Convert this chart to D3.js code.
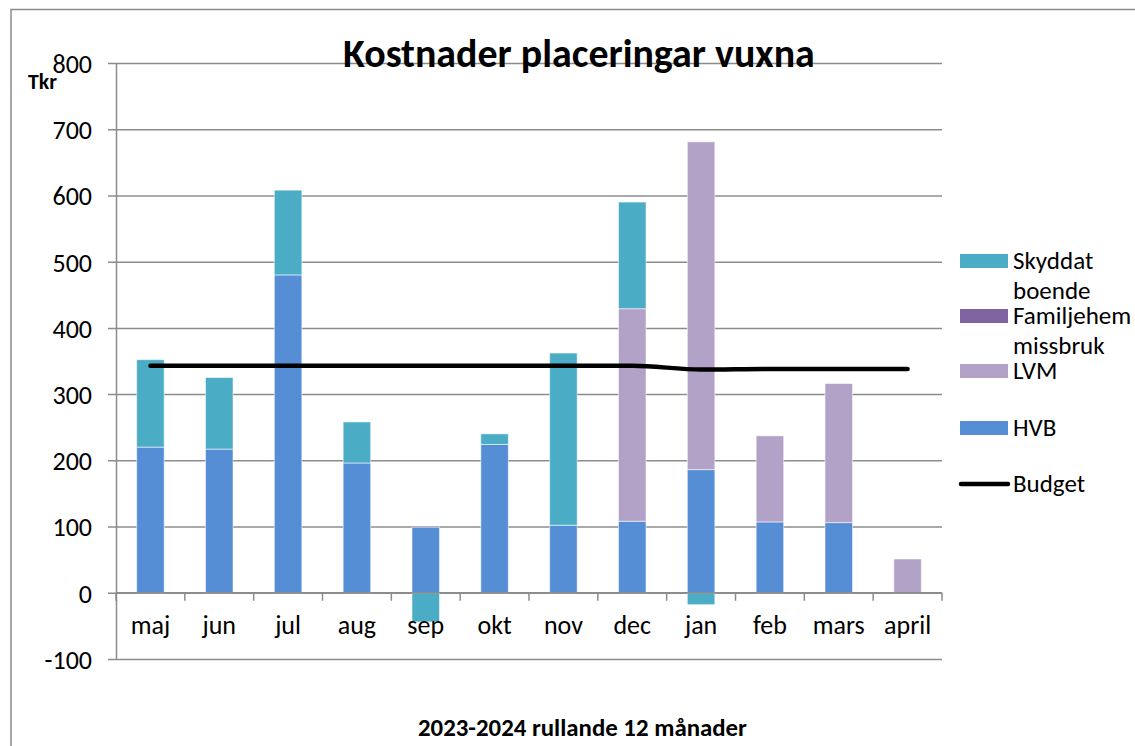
<!DOCTYPE html>
<html>
<head>
<meta charset="utf-8">
<script src="https://cdn.jsdelivr.net/npm/d3@7"></script>
<style>
  html, body { margin: 0; padding: 0; background: #fff; }
  svg { display: block; }
  text { font-family: Carlito, Calibri, Lato, "Open Sans", sans-serif; fill: #000; }
</style>
</head>
<body>
<svg id="chart" width="1135" height="746"></svg>
<script>
// ---- data ----
const categories = ["maj", "jun", "jul", "aug", "sep", "okt", "nov", "dec", "jan", "feb", "mars", "april"];
const hvb        = [220, 217, 480, 196, 99, 224, 102, 108, 186, 107, 106, 0];
const lvm        = [0, 0, 0, 0, 0, 0, 0, 321, 495, 130, 210, 51];
const familjehem = [0, 0, 0, 0, 0, 0, 0, 0, 0, 0, 0, 0];
const skyddat    = [132, 108, 128, 62, -44, 16, 260, 161, -18, 0, 0, 0];
const budget     = [343, 343, 343, 343, 343, 343, 343, 343, 337, 338, 338, 338];
const yTicks     = [-100, 0, 100, 200, 300, 400, 500, 600, 700, 800];
const seriesKeys = ["HVB", "LVM", "Familjehem", "Skyddat"];
const legendItems = [
  { key: "Skyddat", lines: ["Skyddat", "boende"] },
  { key: "Familjehem", lines: ["Familjehem", "missbruk"] },
  { key: "LVM", lines: ["LVM"] },
  { key: "HVB", lines: ["HVB"] },
  { key: "Budget", lines: ["Budget"] }
];
const colors = { HVB: "#558ED5", LVM: "#B3A2C7", Familjehem: "#8064A2", Skyddat: "#4BACC6" };

const rows = categories.map((c, i) => ({
  cat: c, HVB: hvb[i], LVM: lvm[i], Familjehem: familjehem[i], Skyddat: skyddat[i], budget: budget[i]
}));

// ---- layout ----
const svg = d3.select("#chart");
const plotL = 116, plotR = 942, plotT = 63, plotB = 659;
const gridColor = "#8c8c8c";

function fitWidth(sel, target) {
  const fs = parseFloat(sel.attr("font-size"));
  const w = sel.node().getComputedTextLength();
  if (w > 0) sel.attr("font-size", fs * target / w);
  return sel;
}

svg.append("rect").attr("x", 0).attr("y", 0).attr("width", 1135).attr("height", 746).attr("fill", "#fff");
svg.append("rect").attr("x", 11).attr("y", 9.5).attr("width", 1140).attr("height", 760)
  .attr("fill", "none").attr("stroke", "#8a8a8a").attr("stroke-width", 1.5);

const y = d3.scaleLinear().domain([-100, 800]).range([plotB, plotT]);
const x = d3.scaleBand().domain(categories).range([plotL, plotR]).padding(0);
const bw = x.bandwidth();

// gridlines
const grid = svg.append("g").attr("transform", `translate(${plotR},0)`)
  .call(d3.axisLeft(y).tickValues(yTicks).tickSize(plotR - plotL + 8).tickFormat(""));
grid.select(".domain").remove();
grid.selectAll("line").attr("stroke", gridColor).attr("stroke-width", 1.5);

// y axis
const yAxis = svg.append("g").attr("transform", `translate(${plotL},0)`)
  .call(d3.axisLeft(y).tickValues(yTicks).tickSize(0).tickPadding(24).tickFormat(d => String(d)));
yAxis.select(".domain").attr("stroke", gridColor).attr("stroke-width", 1.5);
yAxis.selectAll("text").attr("font-size", 26).attr("fill", "#000").attr("dy", "0.36em")
  .style("font-family", "Carlito, Calibri, Lato, sans-serif");

// bars
const stack = d3.stack().keys(seriesKeys).offset(d3.stackOffsetDiverging);
const stacked = stack(rows);
svg.append("g").selectAll("g").data(stacked).join("g")
  .attr("fill", d => colors[d.key])
  .selectAll("rect").data(d => d.filter(s => s[1] !== s[0])).join("rect")
  .attr("x", d => x(d.data.cat) + bw * 0.3)
  .attr("width", bw * 0.4)
  .attr("y", d => y(Math.max(d[0], d[1])))
  .attr("height", d => Math.abs(y(d[0]) - y(d[1])))
  .attr("stroke", "rgba(255,255,255,0.55)").attr("stroke-width", 1);

// x axis at zero
const xAxisG = svg.append("g").attr("transform", `translate(0,${y(0)})`);
xAxisG.append("line").attr("x1", plotL).attr("x2", plotR).attr("stroke", gridColor).attr("stroke-width", 1.5);
const boundaries = d3.range(categories.length + 1).map(i => plotL + i * bw);
xAxisG.selectAll(".tk").data(boundaries).join("line").attr("class", "tk")
  .attr("x1", d => d).attr("x2", d => d).attr("y1", 0).attr("y2", 8)
  .attr("stroke", gridColor).attr("stroke-width", 1.5);
svg.append("g").selectAll("text").data(categories).join("text")
  .attr("x", d => x(d) + bw / 2).attr("y", 634)
  .attr("text-anchor", "middle").attr("font-size", 26).text(d => d);

// budget line
const line = d3.line().x(d => x(d.cat) + bw / 2).y(d => y(d.budget)).curve(d3.curveMonotoneX);
svg.append("path").datum(rows).attr("d", line).attr("fill", "none")
  .attr("stroke", "#000").attr("stroke-width", 4.5).attr("stroke-linecap", "round").attr("stroke-linejoin", "round");

// title
const title = svg.append("text").attr("x", 343).attr("y", 67)
  .attr("font-size", 36).attr("font-weight", "bold").text("Kostnader placeringar vuxna");
fitWidth(title, 472);
const tkr = svg.append("text").attr("x", 28).attr("y", 89).attr("font-size", 22).attr("font-weight", "bold").text("Tkr");
fitWidth(tkr, 29);
const xt = svg.append("text").attr("x", 418).attr("y", 736)
  .attr("font-size", 22).attr("font-weight", "bold").text("2023-2024 rullande 12 månader");
fitWidth(xt, 329);

// legend
const legendY = { Skyddat: 261, Familjehem: 316, LVM: 371, HVB: 428, Budget: 484 };
const lg = svg.append("g");
legendItems.forEach(item => {
  const cy = legendY[item.key];
  if (item.key === "Budget") {
    lg.append("line").attr("x1", 961).attr("x2", 1008).attr("y1", cy).attr("y2", cy)
      .attr("stroke", "#000").attr("stroke-width", 4.5).attr("stroke-linecap", "round");
  } else {
    lg.append("rect").attr("x", 960).attr("y", cy - 7).attr("width", 48).attr("height", 14)
      .attr("fill", colors[item.key]);
  }
  item.lines.forEach((t, j) => {
    lg.append("text").attr("x", 1013).attr("y", cy + 8 + j * 30).attr("font-size", 25).text(t);
  });
});
</script>
</body>
</html>
